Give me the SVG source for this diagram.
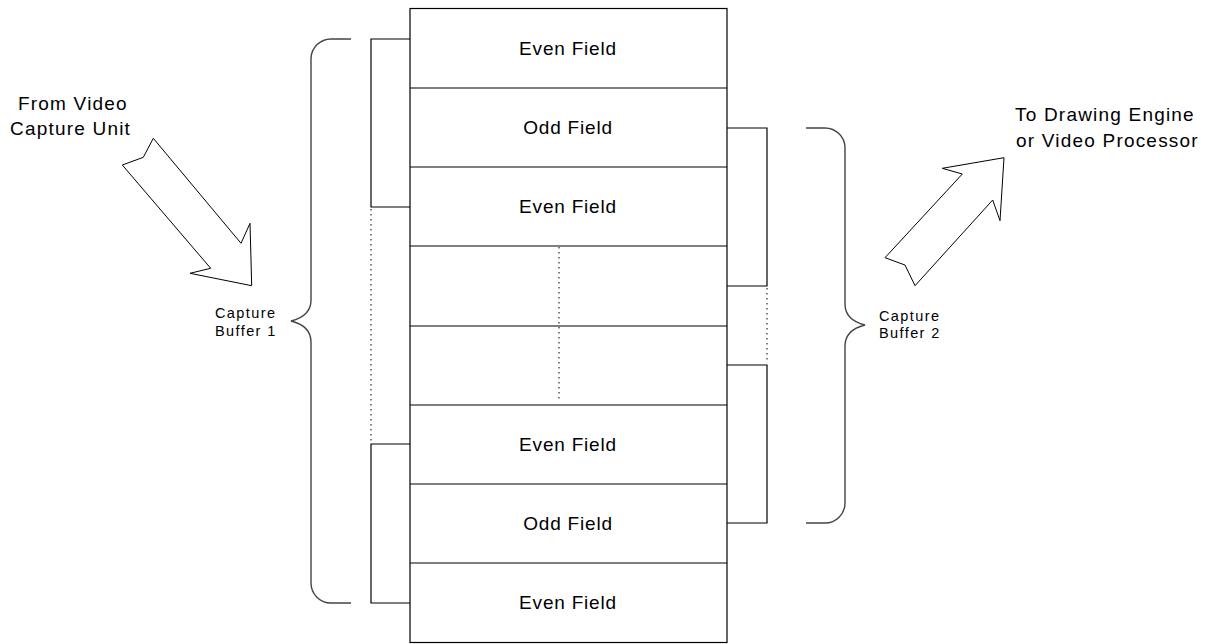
<svg xmlns="http://www.w3.org/2000/svg" width="1215" height="644" viewBox="0 0 1215 644">
<style>
.ln{fill:none;stroke:#000;stroke-width:1.2}
.dot{fill:none;stroke:#000;stroke-width:1;stroke-dasharray:1.5 3.5}
.br{fill:none;stroke:#444;stroke-width:1.4}
.ar{fill:#fff;stroke:#000;stroke-width:1}
.big{font-family:"Liberation Sans",Arial,sans-serif;font-size:19px;letter-spacing:1.2px;fill:#000}
.fld{font-family:"Liberation Sans",Arial,sans-serif;font-size:19px;letter-spacing:0.8px;fill:#000;text-anchor:middle}
.sm{font-family:"Liberation Sans",Arial,sans-serif;font-size:14.5px;letter-spacing:1.4px;fill:#000}
</style>
<rect width="1215" height="644" fill="#fff"/>
<g id="memory">
<rect x="410" y="8.5" width="317" height="634" class="ln"/>
<line x1="410" y1="88" x2="727" y2="88" class="ln"/>
<line x1="410" y1="167" x2="727" y2="167" class="ln"/>
<line x1="410" y1="246" x2="727" y2="246" class="ln"/>
<line x1="410" y1="326" x2="727" y2="326" class="ln"/>
<line x1="410" y1="405" x2="727" y2="405" class="ln"/>
<line x1="410" y1="484" x2="727" y2="484" class="ln"/>
<line x1="410" y1="563" x2="727" y2="563" class="ln"/>
<line x1="559" y1="247" x2="559" y2="402" class="dot"/>
</g>
<g id="row1"><text x="568" y="55" class="fld">Even Field</text></g>
<g id="row2"><text x="568" y="134" class="fld">Odd Field</text></g>
<g id="row3"><text x="568" y="213" class="fld">Even Field</text></g>
<g id="row6"><text x="568" y="451" class="fld">Even Field</text></g>
<g id="row7"><text x="568" y="530" class="fld">Odd Field</text></g>
<g id="row8"><text x="568" y="609" class="fld">Even Field</text></g>
<g id="connectors">
<path d="M410,39 H371 V207 H410" class="ln"/>
<path d="M410,444 H371 V603 H410" class="ln"/>
<line x1="371" y1="209" x2="371" y2="442" class="dot"/>
<path d="M727,128 H767 V286 H727" class="ln"/>
<path d="M727,365 H767 V523 H727" class="ln"/>
<line x1="767" y1="288" x2="767" y2="363" class="dot"/>
<path d="M351,39 H331 A20,20 0 0 0 311,59 V300 Q311,316 291,321 Q311,326 311,342 V583 A20,20 0 0 0 331,603 H351" class="br"/>
<path d="M806,128 H825 A20,20 0 0 1 845,148 V304 Q845,320 865,325 Q845,330 845,346 V503 A20,20 0 0 1 825,523 H806" class="br"/>
</g>
<g id="arrow-in">
<polygon points="153.3,138.3 143.3,157.3 122.3,165 210.7,268.3 190,273.3 251.7,285.7 250,223.3 241,243.3" class="ar"/>
</g>
<g id="arrow-out">
<polygon points="1004,157.7 942.3,168.3 962.3,174 885,257.7 905,265 915,285.7 992.7,200 1000,220.7" class="ar"/>
</g>
<g id="label-in">
<text x="18" y="110" class="big">From Video</text>
<text x="10" y="135" class="big">Capture Unit</text>
</g>
<g id="label-out">
<text x="1015" y="121" class="big">To Drawing Engine</text>
<text x="1016" y="147" class="big">or Video Processor</text>
</g>
<g id="label-buf1">
<text x="215" y="318" class="sm">Capture</text>
<text x="215" y="336" class="sm">Buffer 1</text>
</g>
<g id="label-buf2">
<text x="879" y="321" class="sm">Capture</text>
<text x="879" y="338" class="sm">Buffer 2</text>
</g>
</svg>
